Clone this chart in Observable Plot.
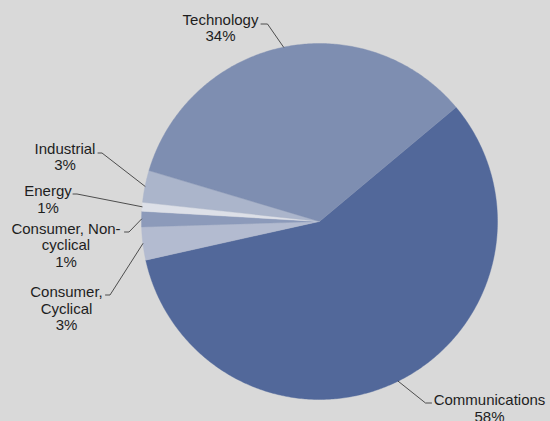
<!DOCTYPE html>
<html>
<head>
<meta charset="utf-8">
<script src="https://cdn.jsdelivr.net/npm/d3@7"></script>
<script src="https://cdn.jsdelivr.net/npm/@observablehq/plot@0.6"></script>
<style>
  html, body { margin: 0; padding: 0; background: #d9d9d9; }
  #chart svg { display: block; }
</style>
</head>
<body>
<div id="chart"></div>
<script>
// ---- data ----
const sectors = ["Communications", "Consumer, Cyclical", "Consumer, Non-cyclical", "Energy", "Industrial", "Technology"];
const shares = [57.6, 3.0, 1.4, 0.8, 2.9, 34.3];
const labelTexts = ["Communications\n58%", "Consumer,\nCyclical\n3%", "Consumer, Non-\ncyclical\n1%", "Energy\n1%", "Industrial\n3%", "Technology\n34%"];
const colors = ["#52689a", "#b3bbd0", "#8c9aba", "#dde0e8", "#abb5cb", "#7e8eb1"];

// ---- layout (label placement, hand-set like the reference) ----
const W = 550, H = 421, cx = 319, cy = 221, R = 178;
const startDeg = 50.1;
const FS = 15, LH = 1.1;
// text centre x, first baseline y, elbow x/y, tail x
const labelLayout = [
  {tx: 489, ty: 403.5, ex: 425, ey: 402.5, hx: 431},
  {tx: 66, ty: 295.5, ex: 109.5, ey: 294.5, hx: 105},
  {tx: 65.5, ty: 232, ex: 128.5, ey: 231.5, hx: 124},
  {tx: 47.5, ty: 194.5, ex: 76.5, ey: 193.5, hx: 72.5},
  {tx: 64.5, ty: 152, ex: 101.5, ey: 152.5, hx: 97.5},
  {tx: 220, ty: 23, ex: 267, ey: 23.5, hx: 260.5}
];

const rows = sectors.map((s, i) => ({name: s, value: shares[i], i}));
const arcs = d3.pie().sort(null).value(d => d.value)
  .startAngle(startDeg * Math.PI / 180)
  .endAngle(startDeg * Math.PI / 180 + 2 * Math.PI)(rows);

const px = a => cx + R * Math.sin(a);
const py = a => cy - R * Math.cos(a);

const slicePts = [];
for (const a of arcs) {
  const name = a.data.name;
  slicePts.push({name, x: cx, y: cy});
  const n = Math.max(4, Math.ceil((a.endAngle - a.startAngle) / 0.01));
  for (let k = 0; k <= n; k++) {
    const t = a.startAngle + (a.endAngle - a.startAngle) * k / n;
    slicePts.push({name, x: px(t), y: py(t)});
  }
  slicePts.push({name, x: cx, y: cy});
}

const leaderPts = [];
const labels = [];
arcs.forEach((a, i) => {
  const L = labelLayout[i];
  const mid = (a.startAngle + a.endAngle) / 2;
  const name = a.data.name;
  leaderPts.push({name, x: L.hx, y: L.ey});
  leaderPts.push({name, x: L.ex, y: L.ey});
  leaderPts.push({name, x: px(mid), y: py(mid)});
  labels.push({x: L.tx, y: L.ty - 0.71 * FS, text: labelTexts[i]});
});

const chart = Plot.plot({
  width: W,
  height: H,
  margin: 0,
  style: {background: "#d9d9d9", overflow: "visible"},
  x: {domain: [0, W], range: [0, W], axis: null},
  y: {domain: [0, H], range: [0, H], axis: null},
  color: {domain: sectors, range: colors},
  marks: [
    Plot.line(slicePts, {x: "x", y: "y", z: "name", fill: "name", stroke: "name", strokeWidth: 0.4, curve: "linear"}),
    Plot.line(leaderPts, {x: "x", y: "y", z: "name", stroke: "#2a2a2a", strokeWidth: 0.8}),
    Plot.text(labels, {x: "x", y: "y", text: "text", textAnchor: "middle", lineAnchor: "top", lineHeight: LH,
      fontSize: FS, fontFamily: "Liberation Sans, Arial, sans-serif", fill: "#1e1e1e"})
  ]
});
document.getElementById("chart").appendChild(chart);
</script>
</body>
</html>
